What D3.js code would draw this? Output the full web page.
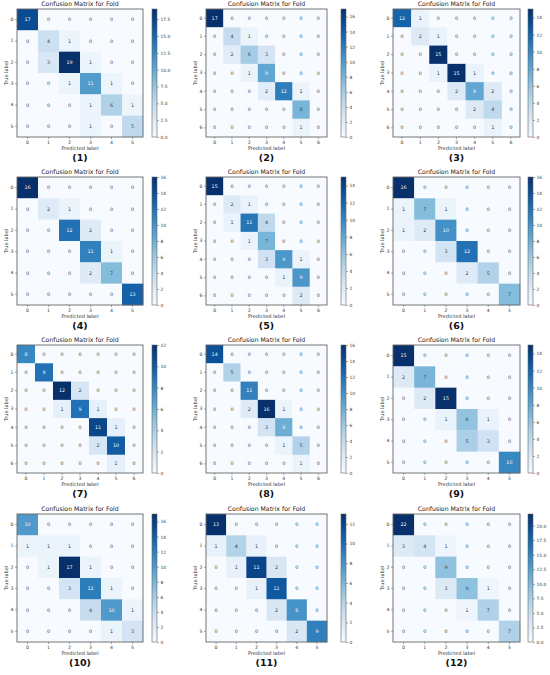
<!DOCTYPE html>
<html>
<head>
<meta charset="utf-8">
<script src="https://cdn.jsdelivr.net/npm/d3@7"></script>
<style>
  html, body { margin: 0; padding: 0; background: #fff; }
  svg { display: block; }
  text { font-family: "DejaVu Sans", sans-serif; }
</style>
</head>
<body>
<svg id="chart" width="550" height="675"></svg>
<script>
// ---- data: one confusion matrix per fold (rows = true label, cols = predicted label)
const captions = ["(1)","(2)","(3)","(4)","(5)","(6)","(7)","(8)","(9)","(10)","(11)","(12)"];
const chartTitle = "Confusion Matrix for Fold";
const xAxisTitle = "Predicted label";
const yAxisTitle = "True label";

const m1 = [[17,0,0,0,0,0],[0,4,1,0,0,0],[0,3,19,1,0,0],[0,0,1,11,1,0],[0,0,0,1,6,1],[0,0,0,1,0,5]];
const m2 = [[17,0,0,0,0,0,0],[0,4,1,0,0,0,0],[0,2,6,3,0,0,0],[0,0,1,9,0,0,0],[0,0,0,2,12,1,0],[0,0,0,0,0,8,0],[0,0,0,0,0,1,0]];
const m3 = [[12,1,0,0,0,0,0],[0,2,1,0,0,0,0],[0,0,15,0,0,0,0],[0,0,1,15,1,0,0],[0,0,0,2,8,2,0],[0,0,0,0,2,4,0],[0,0,0,0,0,1,0]];
const m4 = [[16,0,0,0,0,0],[0,2,1,0,0,0],[0,0,12,2,0,0],[0,0,0,11,1,0],[0,0,0,2,7,0],[0,0,0,0,0,13]];
const m5 = [[15,0,0,0,0,0,0],[0,2,1,0,0,0,0],[0,1,11,4,0,0,0],[0,0,1,7,0,0,0],[0,0,0,3,9,1,0],[0,0,0,0,1,9,0],[0,0,0,0,0,2,0]];
const m6 = [[16,0,0,0,0,0],[1,7,1,0,0,0],[1,2,10,0,0,0],[0,0,3,12,0,0],[0,0,0,2,5,0],[0,0,0,0,0,7]];
const m7 = [[8,0,0,0,0,0,0],[0,9,0,0,0,0,0],[0,0,12,2,0,0,0],[0,0,1,9,1,0,0],[0,0,0,0,11,1,0],[0,0,0,0,2,10,0],[0,0,0,0,0,1,0]];
const m8 = [[14,0,0,0,0,0,0],[0,5,0,0,0,0,0],[0,0,11,0,0,0,0],[0,0,2,16,1,0,0],[0,0,0,3,8,0,0],[0,0,0,0,1,5,0],[0,0,0,0,0,1,0]];
const m9 = [[15,0,0,0,0,0],[2,7,0,0,0,0],[0,2,15,0,0,0],[0,0,1,6,1,0],[0,0,0,5,3,0],[0,0,0,0,0,10]];
const m10 = [[10,0,0,0,0,0],[1,1,1,0,0,0],[0,1,17,1,0,0],[0,0,3,12,1,0],[0,0,0,4,10,1],[0,0,0,0,1,3]];
const m11 = [[13,0,0,0,0,0],[1,4,1,0,0,0],[0,1,12,2,0,0],[0,0,1,11,0,0],[0,0,0,2,8,0],[0,0,0,0,2,9]];
const m12 = [[22,0,0,0,0,0],[3,4,1,0,0,0],[0,0,9,0,0,0],[0,0,3,9,1,0],[0,0,0,1,7,0],[0,0,0,0,0,7]];
const matrices = [m1,m2,m3,m4,m5,m6,m7,m8,m9,m10,m11,m12];

// colorbar tick labels per panel
const cb1 = [0,2.5,5,7.5,10,12.5,15,17.5];
const cb2 = [0,2,4,6,8,10,12,14,16];
const cb3 = [0,2,4,6,8,10,12,14];
const cb4 = [0,2,4,6,8,10,12,14,16];
const cb5 = [0,2,4,6,8,10,12,14];
const cb6 = [0,2,4,6,8,10,12,14,16];
const cb7 = [0,2,4,6,8,10,12];
const cb8 = [0,2,4,6,8,10,12,14,16];
const cb9 = [0,2,4,6,8,10,12,14];
const cb10 = [0,2,4,6,8,10,12,14,16];
const cb11 = [0,2,4,6,8,10,12];
const cb12 = [0,2.5,5,7.5,10,12.5,15,17.5,20];
const cbTicks = [cb1,cb2,cb3,cb4,cb5,cb6,cb7,cb8,cb9,cb10,cb11,cb12];

// ---- layout
const colBoxLeft = [17, 206, 393];
const colBoxW = [126, 121, 127];
const colCbLeft = [152, 341, 528];
const rowBoxTop = [9, 177, 345, 514];
const boxH = 128;
const cbW = 5;

const svg = d3.select("#chart");
const defs = svg.append("defs");
const grad = defs.append("linearGradient").attr("id","bluesGrad")
  .attr("x1","0").attr("y1","1").attr("x2","0").attr("y2","0");
d3.range(0, 1.0001, 0.05).forEach(t => {
  grad.append("stop").attr("offset", t).attr("stop-color", d3.interpolateBlues(t));
});

matrices.forEach((mat, idx) => {
  const col = idx % 3, row = Math.floor(idx / 3);
  const x0 = colBoxLeft[col], y0 = rowBoxTop[row];
  const w = colBoxW[col], h = boxH;
  const n = mat.length;
  const labels = d3.range(n);
  const vmax = d3.max(mat.flat());
  const color = d3.scaleSequential(d3.interpolateBlues).domain([0, vmax]);

  const xs = d3.scaleBand().domain(labels).range([x0, x0 + w]);
  const ys = d3.scaleBand().domain(labels).range([y0, y0 + h]);

  const g = svg.append("g");
  const cells = mat.flatMap((r, i) => r.map((v, j) => ({i, j, v})));

  g.selectAll("rect.cell").data(cells).enter().append("rect")
    .attr("class","cell")
    .attr("x", d => xs(d.j)).attr("y", d => ys(d.i))
    .attr("width", xs.bandwidth() + 0.3).attr("height", ys.bandwidth() + 0.3)
    .attr("fill", d => color(d.v));

  g.selectAll("text.val").data(cells).enter().append("text")
    .attr("class","val")
    .attr("x", d => xs(d.j) + xs.bandwidth()/2)
    .attr("y", d => ys(d.i) + ys.bandwidth()/2)
    .attr("text-anchor","middle").attr("dominant-baseline","central")
    .attr("font-size", 4.8)
    .attr("fill", d => d.v >= vmax/2 ? "#f7fbff" : "#2b3d55")
    .text(d => d.v);

  // frame
  g.append("rect").attr("x", x0).attr("y", y0).attr("width", w).attr("height", h)
    .attr("fill","none").attr("stroke","#666").attr("stroke-width",0.9);

  // axes
  const xAxis = d3.axisBottom(xs).tickSize(2).tickPadding(1.5);
  const ax = g.append("g").attr("transform", `translate(0,${y0 + h})`).call(xAxis);
  ax.select(".domain").remove();
  ax.selectAll("line").attr("stroke","#555").attr("stroke-width",0.5);
  ax.selectAll("text").attr("font-size",4.6).attr("fill","#333");

  const yAxis = d3.axisLeft(ys).tickSize(2).tickPadding(1.5);
  const ay = g.append("g").attr("transform", `translate(${x0},0)`).call(yAxis);
  ay.select(".domain").remove();
  ay.selectAll("line").attr("stroke","#555").attr("stroke-width",0.5);
  ay.selectAll("text").attr("font-size",4.6).attr("fill","#333");

  // titles
  g.append("text").attr("x", x0 + w/2).attr("y", y0 - 3)
    .attr("text-anchor","middle").attr("font-size",6.2).attr("fill","#222")
    .text(chartTitle);
  g.append("text").attr("x", x0 + w/2).attr("y", y0 + h + 13)
    .attr("text-anchor","middle").attr("font-size",5).attr("fill","#333")
    .text(xAxisTitle);
  g.append("text")
    .attr("transform", `translate(${x0 - 9},${y0 + h/2}) rotate(-90)`)
    .attr("text-anchor","middle").attr("font-size",5).attr("fill","#333")
    .text(yAxisTitle);
  g.append("text").attr("x", x0 + w/2).attr("y", y0 + h + 24)
    .attr("text-anchor","middle")
    .attr("font-family","'Liberation Serif', 'DejaVu Serif', serif")
    .attr("font-weight","bold").attr("font-size",9.5).attr("fill","#111")
    .text(captions[idx]);

  // colorbar
  const cx = colCbLeft[col];
  const cs = d3.scaleLinear().domain([0, vmax]).range([y0 + h, y0]);
  g.append("rect").attr("x", cx).attr("y", y0).attr("width", cbW).attr("height", h)
    .attr("fill","url(#bluesGrad)").attr("stroke","#666").attr("stroke-width",0.6);
  const fmt = cbTicks[idx].some(t => t % 1 !== 0) ? d3.format(".1f") : d3.format("d");
  const cAxis = d3.axisRight(cs).tickValues(cbTicks[idx]).tickFormat(fmt).tickSize(2).tickPadding(1.5);
  const ac = g.append("g").attr("transform", `translate(${cx + cbW},0)`).call(cAxis);
  ac.select(".domain").remove();
  ac.selectAll("line").attr("stroke","#555").attr("stroke-width",0.5);
  ac.selectAll("text").attr("font-size",4.4).attr("fill","#333");
});
</script>
</body>
</html>
